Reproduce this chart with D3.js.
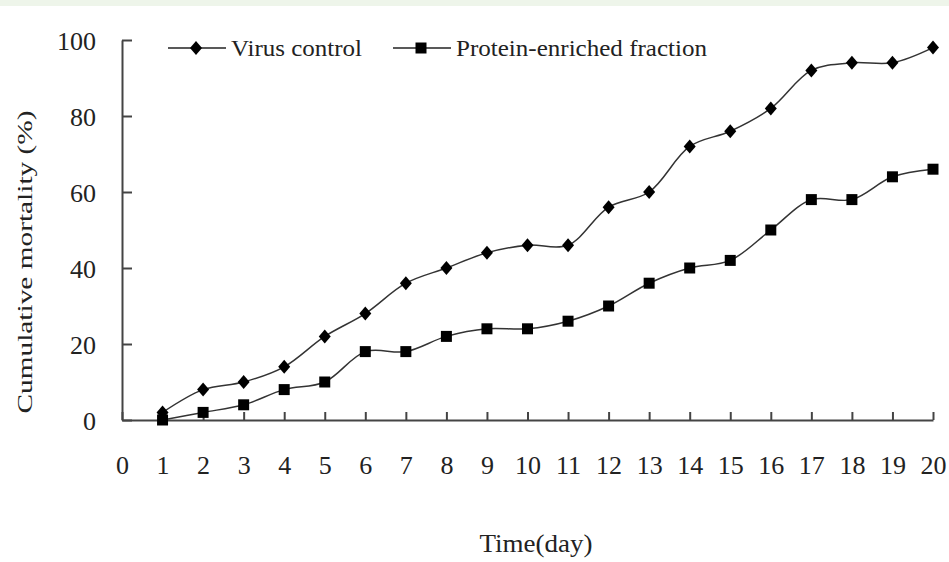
<!DOCTYPE html>
<html>
<head>
<meta charset="utf-8">
<script src="https://cdn.jsdelivr.net/npm/d3@7"></script>
<style>
  body { margin: 0; background: #fff; }
  svg { display: block; }
</style>
</head>
<body>
<div id="chart"></div>
<script>
const width = 949;
const height = 562;
const days = d3.range(1, 21);
const virusControl = [2, 8, 10, 14, 22, 28, 36, 40, 44, 46, 46, 56, 60, 72, 76, 82, 92, 94, 94, 98];
const proteinFraction = [0, 2, 4, 8, 10, 18, 18, 22, 24, 24, 26, 30, 36, 40, 42, 50, 58, 58, 64, 66];
const xTicks = d3.range(0, 21);
const yTicks = [0, 20, 40, 60, 80, 100];
const seriesNames = ["Virus control", "Protein-enriched fraction"];
const font = "'Liberation Serif', 'Times New Roman', serif";
const ink = "#222";

let svg = d3.select("#chart")
  .append("svg")
  .attr("width", width)
  .attr("height", height);

// thin green strip at the very top
svg.append("rect")
  .attr("x", 0).attr("y", 0)
  .attr("width", width).attr("height", 6)
  .attr("fill", "#eef5ea");

let xScale = d3.scaleLinear().domain([0, 20]).range([122, 933]);
let yScale = d3.scaleLinear().domain([0, 100]).range([420, 40]);

let xAxis = svg.append("g")
  .attr("transform", "translate(0," + yScale(0) + ")")
  .call(d3.axisBottom(xScale).tickValues(xTicks).tickFormat(d3.format("d"))
    .tickSizeInner(-8).tickSizeOuter(0).tickPadding(36));

let yAxis = svg.append("g")
  .attr("transform", "translate(" + xScale(0) + ",0)")
  .call(d3.axisLeft(yScale).tickValues(yTicks)
    .tickSizeInner(-10).tickSizeOuter(0).tickPadding(26));

[xAxis, yAxis].forEach(g => {
  g.select(".domain").attr("stroke", "#444").attr("stroke-width", 2);
  g.selectAll(".tick line").attr("stroke", "#444").attr("stroke-width", 2);
  g.selectAll(".tick text")
    .attr("fill", ink)
    .style("font-family", font)
    .style("font-size", "26px");
});
yAxis.selectAll(".tick text").attr("dy", "0.35em");

let line = d3.line()
  .x((d, i) => xScale(days[i]))
  .y(d => yScale(d))
  .curve(d3.curveCatmullRom.alpha(0.5));

const diamond = "M0,-7L6,0L0,7L-6,0Z";
const square = "M-5.5,-5.5H5.5V5.5H-5.5Z";

[[virusControl, diamond], [proteinFraction, square]].forEach(([vals, shape]) => {
  svg.append("path")
    .datum(vals)
    .attr("fill", "none")
    .attr("stroke", "#333")
    .attr("stroke-width", 1.5)
    .attr("d", line);
  svg.selectAll(null)
    .data(vals)
    .enter()
    .append("path")
    .attr("d", shape)
    .attr("fill", "#000")
    .attr("transform", (d, i) => "translate(" + xScale(days[i]) + "," + yScale(d) + ")");
});

// legend
const legendX = [168, 393];
const legendTextLen = [131, 251];
seriesNames.forEach((name, i) => {
  let g = svg.append("g").attr("transform", "translate(" + legendX[i] + ",48)");
  g.append("line")
    .attr("x1", 0).attr("x2", 58)
    .attr("stroke", "#222").attr("stroke-width", 1.5);
  g.append("path")
    .attr("d", i === 0 ? diamond : square)
    .attr("transform", "translate(28,0)")
    .attr("fill", "#000");
  g.append("text")
    .attr("x", 63).attr("y", 8)
    .attr("fill", ink)
    .attr("textLength", legendTextLen[i])
    .attr("lengthAdjust", "spacingAndGlyphs")
    .style("font-family", font)
    .style("font-size", "24px")
    .text(name);
});

// axis titles
svg.append("text")
  .attr("x", 536).attr("y", 552)
  .attr("text-anchor", "middle")
  .attr("fill", ink)
  .attr("textLength", 113)
  .attr("lengthAdjust", "spacingAndGlyphs")
  .style("font-family", font)
  .style("font-size", "25px")
  .text("Time(day)");

svg.append("text")
  .attr("transform", "translate(25,262) rotate(-90)")
  .attr("text-anchor", "middle")
  .attr("dy", "0.35em")
  .attr("fill", ink)
  .attr("textLength", 303)
  .attr("lengthAdjust", "spacingAndGlyphs")
  .style("font-family", font)
  .style("font-size", "21px")
  .text("Cumulative mortality (%)");
</script>
</body>
</html>
